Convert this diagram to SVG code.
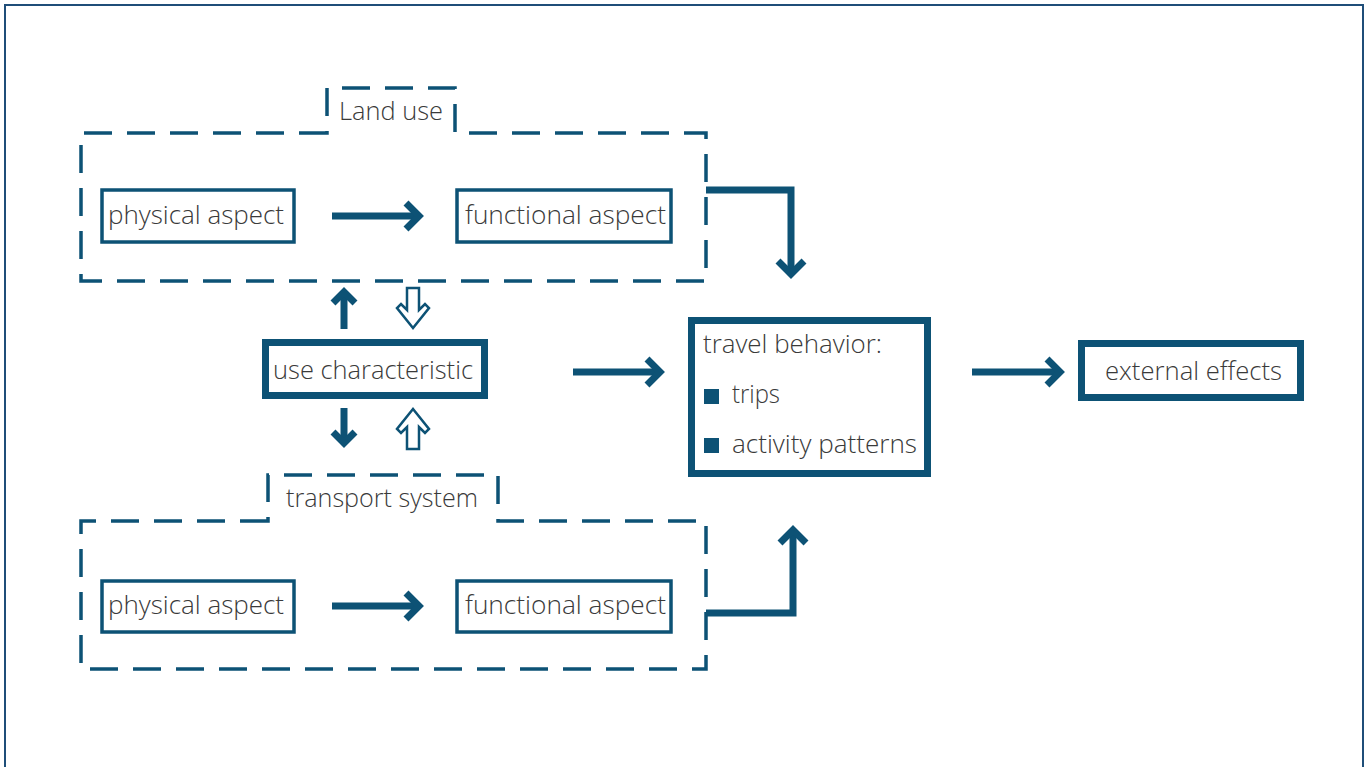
<svg xmlns="http://www.w3.org/2000/svg" width="1370" height="767" viewBox="0 0 1370 767">
  <style>
    .lbl { font-family: "Open Sans", "Noto Sans", "Liberation Sans", sans-serif; font-size: 25.5px; font-weight: 300; fill: #3a3a3a; }
    .box { fill: #ffffff; stroke: #0d5275; stroke-width: 3.5; }
    .boxb { fill: #ffffff; stroke: #0d5275; stroke-width: 7; }
    .group { fill: none; stroke: #0d5275; stroke-width: 3.5; stroke-dasharray: 28 15; }
    .wire { fill: none; stroke: #0d5275; stroke-width: 7; stroke-linejoin: miter; stroke-miterlimit: 10; }
    .hollow { fill: #ffffff; stroke: #0d5275; stroke-width: 2.5; stroke-linejoin: miter; }
  </style>

  <rect width="1370" height="767" fill="#ffffff"/>
  <!-- page frame -->
  <rect x="5" y="5" width="1358" height="800" fill="none" stroke="#1f4e79" stroke-width="2"/>

  <!-- land use container -->
  <g id="land-use">
    <path class="group" d="M327 133 H81 V281 H706 V133 H455 V88 H327 Z"/>
    <text class="lbl" x="339" y="120" textLength="104" lengthAdjust="spacingAndGlyphs">Land use</text>
  </g>

  <!-- transport system container -->
  <g id="transport-system">
    <path class="group" d="M268 521 H81 V669 H706 V521 H498 V475 H268 Z"/>
    <text class="lbl" x="286" y="507" textLength="192" lengthAdjust="spacingAndGlyphs">transport system</text>
  </g>

  <g id="lu-physical">
    <rect class="box" x="102" y="190" width="192" height="52"/>
    <text class="lbl" x="108" y="224" textLength="176" lengthAdjust="spacingAndGlyphs">physical aspect</text>
  </g>
  <g id="lu-functional">
    <rect class="box" x="457" y="190" width="214" height="52"/>
    <text class="lbl" x="465" y="224" textLength="201" lengthAdjust="spacingAndGlyphs">functional aspect</text>
  </g>
  <g id="ts-physical">
    <rect class="box" x="102" y="581" width="192" height="51"/>
    <text class="lbl" x="108" y="614" textLength="176" lengthAdjust="spacingAndGlyphs">physical aspect</text>
  </g>
  <g id="ts-functional">
    <rect class="box" x="457" y="581" width="214" height="51"/>
    <text class="lbl" x="465" y="614" textLength="201" lengthAdjust="spacingAndGlyphs">functional aspect</text>
  </g>

  <g id="use-characteristic">
    <rect class="boxb" x="265.5" y="342.5" width="219" height="53"/>
    <text class="lbl" x="273" y="379" textLength="200" lengthAdjust="spacingAndGlyphs">use characteristic</text>
  </g>

  <g id="travel-behavior">
    <rect class="boxb" x="691.5" y="320.5" width="236" height="153"/>
    <text class="lbl" x="703" y="353" textLength="179" lengthAdjust="spacingAndGlyphs">travel behavior:</text>
    <rect x="704" y="389" width="15" height="15" fill="#0d5275"/>
    <text class="lbl" x="732" y="403" textLength="48" lengthAdjust="spacingAndGlyphs">trips</text>
    <rect x="704" y="438" width="15" height="15" fill="#0d5275"/>
    <text class="lbl" x="732" y="453" textLength="185" lengthAdjust="spacingAndGlyphs">activity patterns</text>
  </g>

  <g id="external-effects">
    <rect class="boxb" x="1081.5" y="343.5" width="219" height="54"/>
    <text class="lbl" x="1105" y="380" textLength="177" lengthAdjust="spacingAndGlyphs">external effects</text>
  </g>

  <!-- connectors -->
  <g id="connectors">
    <!-- physical -> functional, land use -->
    <path class="wire" d="M332 216 H418"/>
    <path class="wire" d="M406 203 L419 216 L406 229"/>
    <!-- physical -> functional, transport -->
    <path class="wire" d="M332 606 H418"/>
    <path class="wire" d="M406 593 L419 606 L406 619"/>
    <!-- use characteristic -> travel behavior -->
    <path class="wire" d="M573 372 H659"/>
    <path class="wire" d="M647 359 L660 372 L647 385"/>
    <!-- travel behavior -> external effects -->
    <path class="wire" d="M972 372 H1059"/>
    <path class="wire" d="M1047 359 L1060 372 L1047 385"/>
    <!-- land use -> travel behavior -->
    <path class="wire" d="M706 190 H791 V273"/>
    <path class="wire" d="M778 261 L791 274 L804 261"/>
    <!-- transport system -> travel behavior -->
    <path class="wire" d="M706 613 H793 V531"/>
    <path class="wire" d="M780 543 L793 530 L806 543"/>
    <!-- use characteristic -> land use (filled) -->
    <path class="wire" d="M344 329 V296"/>
    <path class="wire" d="M333 303 L344 292 L355 303"/>
    <!-- land use -> use characteristic (hollow) -->
    <path class="hollow" d="M407 288 H419 V310 L425 304 L429 308 L413 328 L397 308 L401 304 L407 310 Z"/>
    <!-- use characteristic -> transport system (filled) -->
    <path class="wire" d="M344 408 V440"/>
    <path class="wire" d="M333 432 L344 443 L355 432"/>
    <!-- transport system -> use characteristic (hollow) -->
    <path class="hollow" d="M407 449 H419 V427 L425 433 L429 429 L413 409 L397 429 L401 433 L407 427 Z"/>
  </g>
</svg>
